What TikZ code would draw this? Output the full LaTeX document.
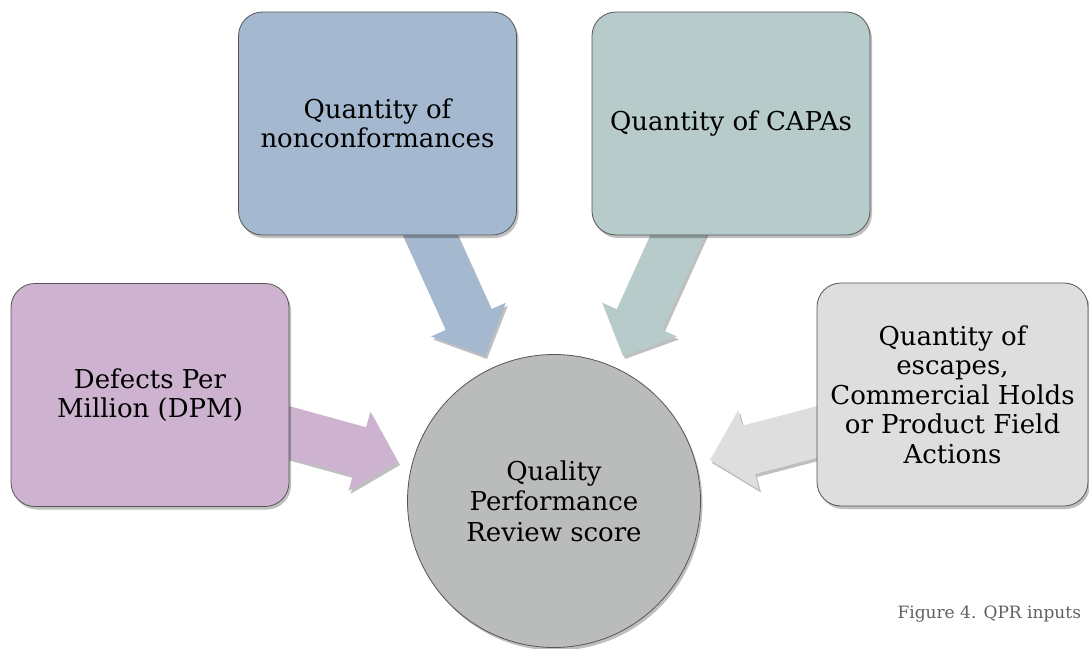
\documentclass[tikz,border=0pt]{standalone}
\usepackage{fontspec}
\setmainfont{DejaVu Serif}
\usetikzlibrary{calc,shadows}
\definecolor{cpurple}{HTML}{CDB3D0}
\definecolor{cblue}{HTML}{A4B9CF}
\definecolor{cteal}{HTML}{B6CBCA}
\definecolor{clight}{HTML}{DEDEDE}
\definecolor{ccircle}{HTML}{BABBBB}
\definecolor{cedge}{HTML}{555555}
\definecolor{ccap}{HTML}{606060}
\newcommand\fatarrow[3]{%
  \coordinate (hb) at ($(#2)!40pt!(#1)$);
  \fill[#3, softshadow]
    ($(#1)!25pt!90:(#2)$) -- ($(hb)!25pt!90:(#2)$) -- ($(hb)!41pt!90:(#2)$) --
    (#2) -- ($(hb)!41pt!-90:(#2)$) -- ($(hb)!25pt!-90:(#2)$) --
    ($(#1)!25pt!-90:(#2)$) -- cycle;}
\begin{document}
\begin{tikzpicture}[x=1pt,y=-1pt,
  softshadow/.style={drop shadow={shadow xshift=2pt, shadow yshift=-3pt, opacity=0.25, fill=black}},
  inbox/.style={rectangle, draw=cedge, line width=0.8pt, rounded corners=24pt,
    inner sep=0pt, align=center, minimum width=278pt, minimum height=223pt,
    font=\fontsize{26}{29.5}\selectfont, softshadow},
  hub/.style={circle, draw=cedge, line width=0.8pt, fill=ccircle, inner sep=0pt,
    minimum size=293pt, align=center, font=\fontsize{26}{30.5}\selectfont, softshadow},
  caption/.style={anchor=base west, text=ccap, font=\fontsize{17}{20}\selectfont}]
\useasboundingbox (0,0) rectangle (1089,648);
% arrow coordinates
\coordinate (pa) at (271,427);  \coordinate (pt) at (398,462);
\coordinate (ba) at (422,217);  \coordinate (bt) at (485,356);
\coordinate (ta) at (686,217);  \coordinate (tt) at (623,356);
\coordinate (ga) at (836,427);  \coordinate (gt) at (710,460);
\fatarrow{pa}{pt}{cpurple}
\fatarrow{ba}{bt}{cblue}
\fatarrow{ta}{tt}{cteal}
\fatarrow{ga}{gt}{clight}
% boxes
\node[inbox, fill=cpurple] (dpm) at (150,395) {Defects Per\\Million (DPM)};
\node[inbox, fill=cblue]   (nc)  at (377.5,123.5) {Quantity of\\nonconformances};
\node[inbox, fill=cteal]   (capa) at (731,123.5) {Quantity of CAPAs};
\node[inbox, fill=clight, minimum width=271pt] (esc) at (952.5,394.5)
  {Quantity of\\escapes,\\Commercial Holds\\or Product Field\\Actions};
\node[hub] (qpr) at (554,501) {Quality\\Performance\\Review score};
\node[caption] (cap) at (894,618) {Figure 4. QPR inputs};
\end{tikzpicture}
\end{document}
